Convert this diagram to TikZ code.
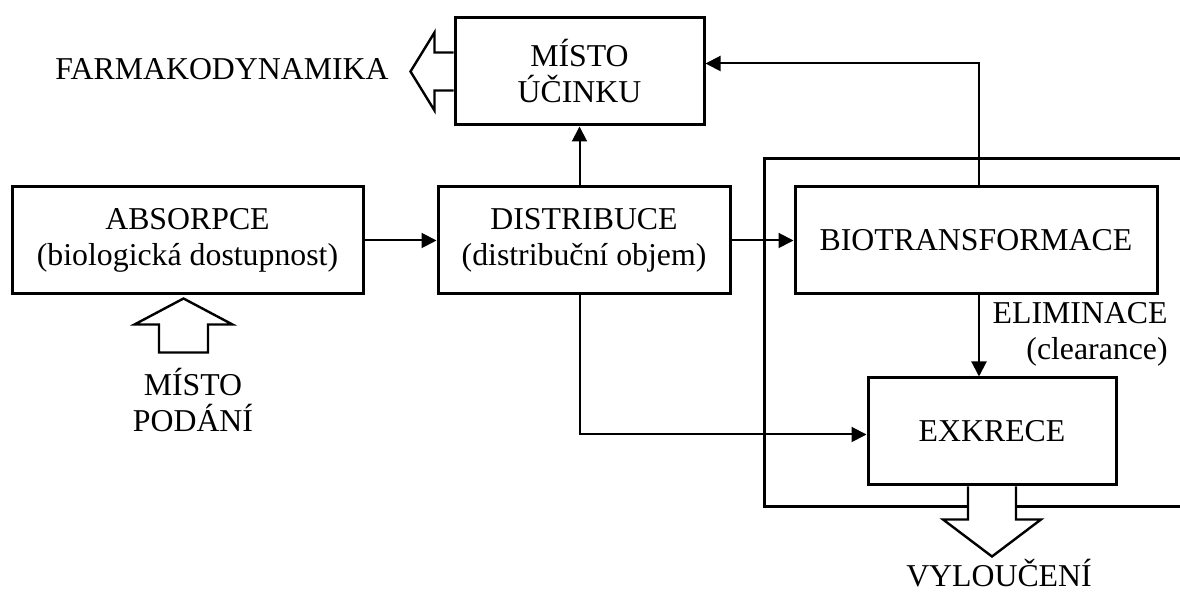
\documentclass[tikz,border=0pt]{standalone}
\usepackage{fontspec}
\setmainfont{Liberation Serif}
\usetikzlibrary{arrows.meta,calc}
\tikzset{
  >={Triangle[length=7.5pt,width=7.5pt]},
  every picture/.append style={font=\fontsize{15.9}{18}\selectfont},
  box/.style={rectangle,draw,line width=1.5pt,inner sep=0pt,align=center,minimum height=53.5pt},
  txt/.style={inner sep=0pt,align=center},
  flowarrow/.style={->,line width=1pt},
  hollow/.style={draw,fill=white,line width=1.2pt,line join=miter},
  bigframe/.style={line width=1.5pt},
}
\begin{document}
\begin{tikzpicture}[x=0.5pt,y=-0.5pt]
  \useasboundingbox (0,0) rectangle (1180,592);

  % open frame on the right
  \draw[bigframe] (1180,159) -- (764,159) -- (764,507) -- (1180,507);

  \node[box, minimum width=124.5pt] (ucinek) at (579.5,71.5) {MÍSTO\\ÚČINKU};
  \node[box, minimum width=175.5pt] (absorpce) at (187.5,240.5) {ABSORPCE\\(biologická dostupnost)};
  \node[box, minimum width=146pt] (distribuce) at (584,240.5) {DISTRIBUCE\\(distribuční objem)};
  \node[box, minimum width=181pt] (biotrans) at (976,240.5) {BIOTRANSFORMACE};
  \node[box, minimum width=124pt] (exkrece) at (992,431.5) {EXKRECE};

  \node[txt] (farmako) at (222,69) {FARMAKODYNAMIKA};
  \node[txt] (podani) at (193,400) {MÍSTO\\PODÁNÍ};
  \node[txt] (vylouceni) at (999,573) {VYLOUČENÍ};
  \node[txt, align=right, anchor=east] (eliminace) at (1168,334) {ELIMINACE\\(clearance)};

  \draw[flowarrow] (absorpce) -- (distribuce);
  \draw[flowarrow] (distribuce) -- (biotrans);
  \draw[flowarrow] (ucinek.south |- distribuce.north) -- (ucinek.south);
  \draw[flowarrow] ([xshift=1.5pt]biotrans.north) |- ([yshift=4pt]ucinek.east);
  \draw[flowarrow] ([xshift=1.5pt]biotrans.south) -- ([xshift=1.5pt]biotrans.south |- exkrece.north);
  \draw[flowarrow] (ucinek.south |- distribuce.south) |- ([yshift=-1.5pt]exkrece.west);

  % hollow arrows
  \draw[hollow] ($(ucinek.west)+(0,-19)$) -- ++(-19,0) -- ++(0,-20) -- ++(-24,39)
    -- ++(24,39) -- ++(0,-20) -- ++(19,0);
  \draw[hollow] ($(absorpce.south)+(-4,3)$) -- ++(49,26) -- ++(-24.5,0) -- ++(0,28)
    -- ++(-49,0) -- ++(0,-28) -- ++(-24.5,0) -- cycle;
  \draw[hollow] ($(exkrece.south)+(-24,0)$) -- ++(0,33) -- ++(-25,0) -- ++(49,37)
    -- ++(49,-37) -- ++(-25,0) -- ++(0,-33);
\end{tikzpicture}
\end{document}
